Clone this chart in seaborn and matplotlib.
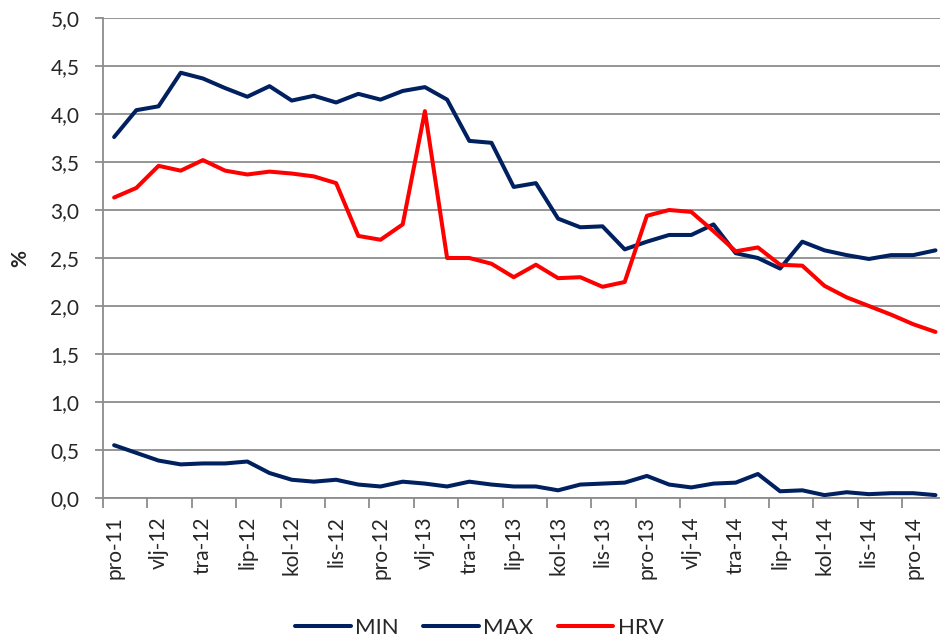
import numpy as np
import pandas as pd
import matplotlib
matplotlib.use("Agg")
import matplotlib.pyplot as plt
import seaborn as sns
from matplotlib.ticker import FuncFormatter, FixedLocator

# ------ DATA ------ #
months = ["pro-11", "sij-12", "vlj-12", "ožu-12", "tra-12", "svi-12", "lip-12", "srp-12",
          "kol-12", "ruj-12", "lis-12", "stu-12", "pro-12", "sij-13", "vlj-13", "ožu-13",
          "tra-13", "svi-13", "lip-13", "srp-13", "kol-13", "ruj-13", "lis-13", "stu-13",
          "pro-13", "sij-14", "vlj-14", "ožu-14", "tra-14", "svi-14", "lip-14", "srp-14",
          "kol-14", "ruj-14", "lis-14", "stu-14", "pro-14", "sij-15"]

min_vals = [0.55, 0.47, 0.39, 0.35, 0.36, 0.36, 0.38, 0.26, 0.19, 0.17, 0.19, 0.14,
            0.12, 0.17, 0.15, 0.12, 0.17, 0.14, 0.12, 0.12, 0.08, 0.14, 0.15, 0.16,
            0.23, 0.14, 0.11, 0.15, 0.16, 0.25, 0.07, 0.08, 0.03, 0.06, 0.04, 0.05,
            0.05, 0.03]

max_vals = [3.76, 4.04, 4.08, 4.43, 4.37, 4.27, 4.18, 4.29, 4.14, 4.19, 4.12, 4.21,
            4.15, 4.24, 4.28, 4.15, 3.72, 3.70, 3.24, 3.28, 2.91, 2.82, 2.83, 2.59,
            2.67, 2.74, 2.74, 2.85, 2.55, 2.50, 2.39, 2.67, 2.58, 2.53, 2.49, 2.53,
            2.53, 2.58]

hrv_vals = [3.13, 3.23, 3.46, 3.41, 3.52, 3.41, 3.37, 3.40, 3.38, 3.35, 3.28, 2.73,
            2.69, 2.85, 4.03, 2.50, 2.50, 2.44, 2.30, 2.43, 2.29, 2.30, 2.20, 2.25,
            2.94, 3.00, 2.98, 2.78, 2.57, 2.61, 2.43, 2.42, 2.21, 2.09, 2.00, 1.91,
            1.81, 1.73]

series = ["MIN", "MAX", "HRV"]
colors = ["#002060", "#002060", "#FF0000"]

# ------ TABLE ------ #
n = len(months)
df = pd.DataFrame({
    "idx": np.tile(np.arange(n), 3),
    "value": min_vals + max_vals + hrv_vals,
    "series": np.repeat(series, n),
})

# ------ PLOT ------ #
sns.set_style("white")
plt.rcParams["font.family"] = ["Lato", "DejaVu Sans"]

fig = plt.figure(figsize=(9.4, 6.41), dpi=100)
ax = fig.add_axes([0.1096, 0.2231, 0.8974, 0.7488])

sns.lineplot(data=df, x="idx", y="value", hue="series", hue_order=series,
             palette=colors, linewidth=2.9, ax=ax, legend=True)

ax.set_xlim(-0.5, n - 0.5)
ax.set_ylim(0, 5)
ax.set_yticks(np.arange(0, 5.01, 0.5))
ax.yaxis.set_major_formatter(FuncFormatter(lambda v, p: f"{v:.1f}".replace(".", ",")))
ax.grid(axis="y", color="#8c8c8c", linewidth=1.3)
ax.set_axisbelow(True)

# labels every 2nd month, tick marks at category boundaries
ax.set_xticks(np.arange(0, n, 2))
ax.set_xticklabels(months[::2], rotation=90)
ax.xaxis.set_minor_locator(FixedLocator(np.arange(-0.5, n, 2)))
ax.tick_params(axis="x", which="major", length=0, pad=13, labelsize=15)
ax.tick_params(axis="x", which="minor", length=7, width=1.3, color="#8c8c8c", bottom=True)
ax.tick_params(axis="y", which="major", length=6, width=1.3, color="#8c8c8c",
               left=True, labelsize=15, pad=11)

for s in ["top", "right"]:
    ax.spines[s].set_visible(False)
for s in ["left", "bottom"]:
    ax.spines[s].set_color("#8c8c8c")
    ax.spines[s].set_linewidth(1.3)

ax.set_xlabel("")
ax.set_ylabel("%", fontsize=15, fontweight="bold")
ax.yaxis.set_label_coords(-0.086, 0.5)

handles, labels = ax.get_legend_handles_labels()
ax.legend_.remove()
fig.legend(handles, labels, loc="center", bbox_to_anchor=(0.51, 13 / 641),
           ncol=3, frameon=False, fontsize=16, handlelength=2.5,
           handletextpad=0.2, columnspacing=1.1)

fig.savefig("out.png", dpi=100)
